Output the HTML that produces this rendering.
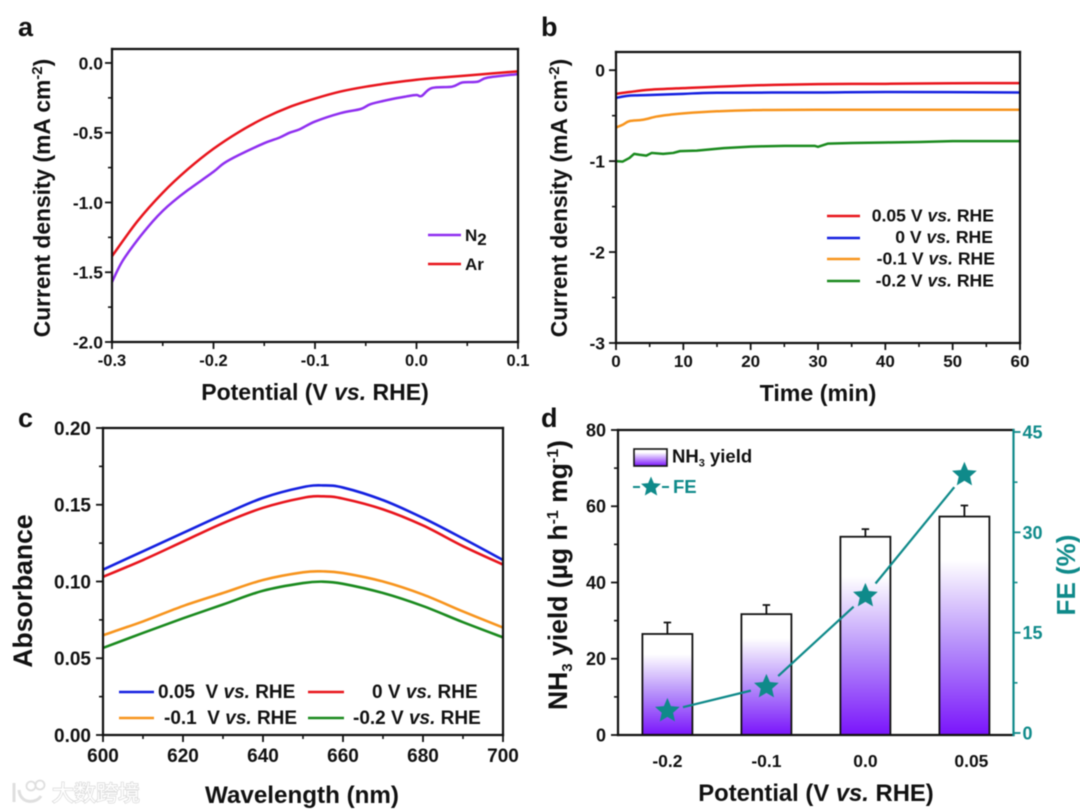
<!DOCTYPE html>
<html lang="en">
<head>
<meta charset="utf-8">
<title>Electrochemical NH3 figure</title>
<style>
html,body{margin:0;padding:0;background:#fff;width:1080px;height:812px;overflow:hidden}
svg{display:block;filter:blur(.4px)}
text{font-family:"Liberation Sans","Noto Sans CJK SC",sans-serif;font-weight:bold;fill:#111}
.it{font-style:italic}
.teal{fill:#0f8a8a}
</style>
</head>
<body>
<svg id="fig" xmlns="http://www.w3.org/2000/svg" width="1080" height="812" viewBox="0 0 1080 812">
<defs>
<linearGradient id="barGrad" x1="0" y1="1" x2="0" y2="0">
<stop offset="0" stop-color="#7a14fb"/>
<stop offset=".4" stop-color="#b48cfa"/>
<stop offset=".8" stop-color="#ffffff"/>
<stop offset="1" stop-color="#ffffff"/>
</linearGradient>
<linearGradient id="legGrad" x1="0" y1="1" x2="0" y2="0">
<stop offset="0" stop-color="#7a14fb"/>
<stop offset=".8" stop-color="#ffffff"/>
</linearGradient>
</defs>

<text x="18" y="36" font-size="27">a</text>
<text x="541" y="36" font-size="27">b</text>
<text x="18" y="427" font-size="27">c</text>
<text x="541" y="427" font-size="27">d</text>

<g id="panelA"></g>
<g id="panelB"></g>
<g id="panelC"></g>
<g id="panelD"></g>

<text x="315" y="400" font-size="23" text-anchor="middle">Potential (V <tspan class="it">vs.</tspan> RHE)</text>
<text transform="translate(50 198) rotate(-90)" font-size="22.800" text-anchor="middle">Current density (mA cm<tspan dy="-8" font-size="15">-2</tspan><tspan dy="8">)</tspan></text>
<text x="818" y="401" font-size="23.200" text-anchor="middle">Time (min)</text>
<text transform="translate(567 198) rotate(-90)" font-size="22.800" text-anchor="middle">Current density (mA cm<tspan dy="-8" font-size="15">-2</tspan><tspan dy="8">)</tspan></text>
<text x="302" y="803" font-size="24.200" text-anchor="middle">Wavelength (nm)</text>
<text transform="translate(32 591) rotate(-90)" font-size="26.500" text-anchor="middle">Absorbance</text>
<text x="816" y="801" font-size="23.800" text-anchor="middle">Potential (V <tspan class="it">vs.</tspan> RHE)</text>
<text transform="translate(567 575) rotate(-90)" font-size="26.500" text-anchor="middle">NH<tspan dy="5" font-size="15">3</tspan><tspan dy="-5"> yield (µg h</tspan><tspan dy="-9" font-size="16">-1</tspan><tspan dy="9"> mg</tspan><tspan dy="-9" font-size="16">-1</tspan><tspan dy="9">)</tspan></text>
<text class="teal" transform="translate(1075 575) rotate(-90)" font-size="26" text-anchor="middle">FE (%)</text>

<g>
<line x1="428" x2="461" y1="235" y2="235" stroke="#8f2ff0" stroke-width="2.400"/>
<text x="465" y="241" font-size="17">N<tspan dy="4" font-size="17">2</tspan></text>
<line x1="428" x2="461" y1="264" y2="264" stroke="#e8141c" stroke-width="2.400"/>
<text x="465" y="270" font-size="17">Ar</text>
</g>

<g>
<line x1="827" x2="860" y1="216" y2="216" stroke="#e8141c" stroke-width="2.400"/>
<text x="994" y="221.500" font-size="17.600" text-anchor="end">0.05 V <tspan class="it">vs.</tspan> RHE</text>
<line x1="827" x2="860" y1="238" y2="238" stroke="#1420e0" stroke-width="2.400"/>
<text x="993" y="243" font-size="17.600" text-anchor="end">0 V <tspan class="it">vs.</tspan> RHE</text>
<line x1="827" x2="860" y1="259" y2="259" stroke="#f7941d" stroke-width="2.400"/>
<text x="995" y="264.500" font-size="17.600" text-anchor="end">-0.1 V <tspan class="it">vs.</tspan> RHE</text>
<line x1="827" x2="860" y1="281" y2="281" stroke="#1a8a1e" stroke-width="2.400"/>
<text x="994" y="286.500" font-size="17.600" text-anchor="end">-0.2 V <tspan class="it">vs.</tspan> RHE</text>
</g>

<g>
<line x1="119" x2="154" y1="692" y2="692" stroke="#1420e0" stroke-width="2.600"/>
<text x="158" y="698" font-size="19" xml:space="preserve">0.05  V <tspan class="it">vs.</tspan> RHE</text>
<line x1="308" x2="344" y1="692" y2="692" stroke="#e8141c" stroke-width="2.600"/>
<text x="372" y="698" font-size="19">0 V <tspan class="it">vs.</tspan> RHE</text>
<line x1="119" x2="154" y1="718" y2="718" stroke="#f7941d" stroke-width="2.600"/>
<text x="164" y="724" font-size="19" xml:space="preserve">-0.1  V <tspan class="it">vs.</tspan> RHE</text>
<line x1="308" x2="344" y1="718" y2="718" stroke="#1a8a1e" stroke-width="2.600"/>
<text x="353" y="724" font-size="19">-0.2 V <tspan class="it">vs.</tspan> RHE</text>
</g>

<g>
<rect x="634" y="449" width="33" height="17" fill="url(#legGrad)" stroke="#111" stroke-width="1.600"/>
<text x="672" y="462.500" font-size="18.500">NH<tspan dy="4" font-size="11">3</tspan><tspan dy="-4"> yield</tspan></text>
<line x1="633" x2="669" y1="487" y2="487" stroke="#0f8a8a" stroke-width="2" stroke-dasharray="7 22 7"/>
<polygon id="legendStar" fill="#0f8a8a"/>
<text class="teal" x="673" y="493" font-size="18.500">FE</text>
</g>

<g opacity=".95">
<path d="M14 783 L14 802 M19 790 C20 804 36 804 41 796" fill="none" stroke="#dedede" stroke-width="3"/>
<circle cx="31" cy="786" r="4.500" fill="none" stroke="#dedede" stroke-width="1.800"/>
<circle cx="40" cy="785" r="4.500" fill="none" stroke="#dedede" stroke-width="1.800"/>
<text x="52" y="801" font-size="22" style="font-weight:normal;fill:#fff;stroke:#d6d6d6;stroke-width:1.4px;paint-order:stroke">大数跨境</text>
</g>
</svg>

<script>
// ---------- Panel a data ----------
const aXLabels = ['-0.3', '-0.2', '-0.1', '0.0', '0.1'];
const aYLabels = ['0.0', '-0.5', '-1.0', '-1.5', '-2.0'];
const aArX = [-0.3, -0.275, -0.25, -0.225, -0.2, -0.175, -0.15, -0.125, -0.1, -0.075, -0.05, -0.025, 0, 0.025, 0.05, 0.075, 0.1];
const aArY = [-1.385, -1.135, -0.93, -0.76, -0.615, -0.495, -0.395, -0.315, -0.255, -0.205, -0.17, -0.143, -0.12, -0.104, -0.09, -0.075, -0.06];
const aN2X = [-0.3, -0.29, -0.275, -0.26, -0.25, -0.24, -0.225, -0.2, -0.19, -0.175, -0.15, -0.135, -0.125, -0.115, -0.1, -0.075, -0.055, -0.045, -0.025, -0.01, 0, 0.005, 0.015, 0.035, 0.045, 0.06, 0.07, 0.1];
const aN2Y = [-1.57, -1.424, -1.27, -1.137, -1.06, -0.995, -0.91, -0.78, -0.72, -0.66, -0.575, -0.535, -0.5, -0.475, -0.42, -0.36, -0.33, -0.295, -0.26, -0.24, -0.23, -0.237, -0.18, -0.17, -0.14, -0.135, -0.105, -0.08];

// ---------- Panel b data ----------
const bXLabels = ['0', '10', '20', '30', '40', '50', '60'];
const bYLabels = ['0', '-1', '-2', '-3'];
const bRedT = [0, 2, 5, 10, 20, 30, 40, 50, 60];
const bRedY = [-0.26, -0.24, -0.215, -0.197, -0.168, -0.153, -0.15, -0.143, -0.142];
const bBlueT = [0, 2, 5, 10, 15, 30, 40, 60];
const bBlueY = [-0.305, -0.28, -0.273, -0.26, -0.248, -0.245, -0.24, -0.245];
const bOrangeT = [0, 1, 2, 4, 6, 8, 10, 15, 20, 30, 60];
const bOrangeY = [-0.63, -0.6, -0.56, -0.545, -0.51, -0.49, -0.475, -0.452, -0.44, -0.435, -0.435];
const bGreenT = [0, 1, 2, 2.7, 3.5, 4.5, 5.3, 7, 8.5, 9.5, 12, 16, 20, 25, 29.5, 30, 31.5, 35, 40, 45, 50, 60];
const bGreenY = [-1, -1.005, -0.965, -0.92, -0.93, -0.94, -0.91, -0.92, -0.91, -0.89, -0.885, -0.857, -0.84, -0.832, -0.832, -0.843, -0.807, -0.8, -0.795, -0.79, -0.78, -0.78];

// ---------- Panel c data ----------
const cXLabels = ['600', '620', '640', '660', '680', '700'];
const cYLabels = ['0.00', '0.05', '0.10', '0.15', '0.20'];
const cWave = [600, 610, 620, 630, 640, 650, 655, 660, 670, 680, 690, 700];
const cBlue = [0.1077, 0.1197, 0.1316, 0.1435, 0.1545, 0.1615, 0.1626, 0.1612, 0.153, 0.1414, 0.128, 0.114];
const cRed = [0.103, 0.114, 0.126, 0.138, 0.148, 0.1545, 0.1555, 0.154, 0.147, 0.1365, 0.123, 0.111];
const cOrange = [0.065, 0.074, 0.084, 0.0925, 0.101, 0.106, 0.1066, 0.1055, 0.1, 0.0915, 0.0805, 0.07];
const cGreen = [0.0567, 0.0665, 0.076, 0.085, 0.094, 0.099, 0.0999, 0.0985, 0.0925, 0.084, 0.0735, 0.0636];

// ---------- Panel d data ----------
const dCategories = ['-0.2', '-0.1', '0.0', '0.05'];
const dYield = [26.5, 31.7, 52, 57.3];
const dYieldErr = [3, 2.4, 2, 2.9];
const dFE = [3.3, 6.9, 20.5, 38.6];
const dYLabels = ['0', '20', '40', '60', '80'];
const dRightLabels = ['0', '15', '30', '45'];

const NS = 'http://www.w3.org/2000/svg';
function mk(parent, tag, attrs, txt) {
  const el = document.createElementNS(NS, tag);
  for (const k in attrs) el.setAttribute(k, attrs[k]);
  if (txt !== undefined) el.textContent = txt;
  parent.appendChild(el);
  return el;
}
function scale(d0, d1, r0, r1) {
  return v => r0 + (v - d0) / (d1 - d0) * (r1 - r0);
}
function midpoints(nums) {
  const out = [];
  for (let i = 0; i < nums.length - 1; i++) out.push((nums[i] + nums[i + 1]) / 2);
  return out;
}
function smoothPath(xs, ys, sx, sy) {
  const p = xs.map((x, i) => [sx(x), sy(ys[i])]);
  let d = 'M' + p[0][0].toFixed(2) + ' ' + p[0][1].toFixed(2);
  for (let i = 0; i < p.length - 1; i++) {
    const p0 = p[Math.max(i - 1, 0)], p1 = p[i], p2 = p[i + 1], p3 = p[Math.min(i + 2, p.length - 1)];
    const c1x = p1[0] + (p2[0] - p0[0]) / 6, c1y = p1[1] + (p2[1] - p0[1]) / 6;
    const c2x = p2[0] - (p3[0] - p1[0]) / 6, c2y = p2[1] - (p3[1] - p1[1]) / 6;
    d += 'C' + c1x.toFixed(2) + ' ' + c1y.toFixed(2) + ' ' + c2x.toFixed(2) + ' ' + c2y.toFixed(2) + ' ' + p2[0].toFixed(2) + ' ' + p2[1].toFixed(2);
  }
  return d;
}
function linePath(xs, ys, sx, sy) {
  return xs.map((x, i) => (i ? 'L' : 'M') + sx(x).toFixed(2) + ' ' + sy(ys[i]).toFixed(2)).join('');
}
function drawSeries(g, d, color, w, name) {
  const el = mk(g, 'path', { d: d, fill: 'none', stroke: color, 'stroke-width': w, 'stroke-linejoin': 'round' });
  
  
}
function frameLine(g, x1, y1, x2, y2, color, name) {
  const el = mk(g, 'line', { x1: x1, y1: y1, x2: x2, y2: y2, stroke: color, 'stroke-width': 2.2, 'stroke-linecap': 'square' });
  
  
}
function xTicks(g, labels, sx, y0, fs, baseline) {
  const nums = labels.map(Number);
  nums.forEach((v, i) => {
    const t = mk(g, 'line', { x1: sx(v), x2: sx(v), y1: y0, y2: y0 + 7, stroke: '#111', 'stroke-width': 1.8 });
    
    
    const l = mk(g, 'text', { x: sx(v), y: baseline, 'font-size': fs, 'text-anchor': 'middle' }, labels[i]);
    
    
  });
  midpoints(nums).forEach(v => {
    const t = mk(g, 'line', { x1: sx(v), x2: sx(v), y1: y0, y2: y0 + 4, stroke: '#111', 'stroke-width': 1.6 });
    
    
  });
}
function yTicks(g, labels, sy, x0, dir, fs, color, cls, gap) {
  const nums = labels.map(Number);
  nums.forEach((v, i) => {
    const t = mk(g, 'line', { x1: x0, x2: x0 + dir * 7, y1: sy(v), y2: sy(v), stroke: color, 'stroke-width': 1.8 });
    
    
    const l = mk(g, 'text', { x: x0 + dir * gap, y: sy(v) + fs * 0.36, 'font-size': fs, 'text-anchor': dir < 0 ? 'end' : 'start' }, labels[i]);
    if (cls) l.setAttribute('class', cls);
    
    
  });
  midpoints(nums).forEach(v => {
    const t = mk(g, 'line', { x1: x0, x2: x0 + dir * 4, y1: sy(v), y2: sy(v), stroke: color, 'stroke-width': 1.6 });
    
    
  });
}
function frame(g, L, R, T, B) {
  frameLine(g, L, T, R, T, '#111', 'plot-frame-top');
  frameLine(g, R, T, R, B, '#111', 'plot-frame-right');
  frameLine(g, L, T, L, B, '#111', 'plot-frame-left');
  frameLine(g, L, B, R, B, '#111', 'plot-frame-bottom');
}
function starPoints(cx, cy, r) {
  const pts = [];
  for (let i = 0; i < 10; i++) {
    const a = -Math.PI / 2 + i * Math.PI / 5;
    const rr = i % 2 ? r * 0.46 : r;
    pts.push((cx + rr * Math.cos(a)).toFixed(2) + ',' + (cy + rr * Math.sin(a)).toFixed(2));
  }
  return pts.join(' ');
}

// ---------- Panel a ----------
(function () {
  const g = document.getElementById('panelA');
  const L = 112, R = 518, T = 49, B = 342;
  const sx = scale(-0.3, 0.1, L, R), sy = scale(-2, 0.1, B, T);
  drawSeries(g, smoothPath(aN2X, aN2Y, sx, sy), '#8f2ff0', 2.5, 'n2-curve');
  drawSeries(g, smoothPath(aArX, aArY, sx, sy), '#e8141c', 2.5, 'ar-curve');
  frame(g, L, R, T, B);
  xTicks(g, aXLabels, sx, B, 16.5, 366);
  yTicks(g, aYLabels, sy, L, -1, 17.5, '#111', null, 9);
})();

// ---------- Panel b ----------
(function () {
  const g = document.getElementById('panelB');
  const L = 616, R = 1020, T = 52, B = 343;
  const sx = scale(0, 60, L, R), sy = scale(-3, 0.2, B, T);
  drawSeries(g, smoothPath(bRedT, bRedY, sx, sy), '#e8141c', 2.5, 'series-0-05v');
  drawSeries(g, smoothPath(bBlueT, bBlueY, sx, sy), '#1420e0', 2.5, 'series-0v');
  drawSeries(g, smoothPath(bOrangeT, bOrangeY, sx, sy), '#f7941d', 2.5, 'series-minus-0-1v');
  drawSeries(g, linePath(bGreenT, bGreenY, sx, sy), '#1a8a1e', 2.5, 'series-minus-0-2v');
  frame(g, L, R, T, B);
  xTicks(g, bXLabels, sx, B, 17, 367);
  yTicks(g, bYLabels, sy, L, -1, 17.5, '#111', null, 11);
})();

// ---------- Panel c ----------
(function () {
  const g = document.getElementById('panelC');
  const L = 103, R = 503, T = 428, B = 735;
  const sx = scale(600, 700, L, R), sy = scale(0, 0.2, B, T);
  drawSeries(g, smoothPath(cWave, cBlue, sx, sy), '#1420e0', 2.6, 'absorbance-0-05v');
  drawSeries(g, smoothPath(cWave, cRed, sx, sy), '#e8141c', 2.6, 'absorbance-0v');
  drawSeries(g, smoothPath(cWave, cOrange, sx, sy), '#f7941d', 2.6, 'absorbance-minus-0-1v');
  drawSeries(g, smoothPath(cWave, cGreen, sx, sy), '#1a8a1e', 2.6, 'absorbance-minus-0-2v');
  frame(g, L, R, T, B);
  xTicks(g, cXLabels, sx, B, 19, 762);
  yTicks(g, cYLabels, sy, L, -1, 19, '#111', null, 12);
})();

// ---------- Panel d ----------
(function () {
  const g = document.getElementById('panelD');
  const L = 618, R = 1013.5, T = 430, B = 735;
  const sy = scale(0, 80, B, T);
  const syR = scale(0, 45, 733, 432);
  const first = 667.4, step = 99;
  const bw = 50;
  const bx = i => first + i * step;
  dCategories.forEach((c, i) => {
    const top = sy(dYield[i]);
    const errTop = sy(dYield[i] + dYieldErr[i]);
    const e = mk(g, 'path', { d: 'M' + bx(i) + ' ' + top + 'V' + errTop + 'M' + (bx(i) - 3.75) + ' ' + errTop + 'H' + (bx(i) + 3.75), fill: 'none', stroke: '#111', 'stroke-width': 1.8 });
    
    
    const r = mk(g, 'rect', { x: bx(i) - bw / 2, y: top, width: bw, height: B - top, fill: 'url(#barGrad)', stroke: '#111', 'stroke-width': 1.8 });
    
    
    const l = mk(g, 'text', { x: bx(i) + (c === '0.05' ? 7 : 0), y: 767, 'font-size': 17.5, 'text-anchor': 'middle' }, c);
    
    
  });
  frameLine(g, L, T, R, T, '#111', 'plot-frame-top');
  frameLine(g, L, T, L, B, '#111', 'plot-frame-left');
  frameLine(g, L, B, R, B, '#111', 'plot-frame-bottom');
  frameLine(g, R, T, R, B, '#0f8a8a', 'right-axis-line');
  yTicks(g, dYLabels, sy, L, -1, 18, '#111', null, 12);
  yTicks(g, dRightLabels, syR, R, 1, 18, '#0f8a8a', 'teal', 9);
  for (let i = 0; i < dFE.length - 1; i++) {
    const x1 = bx(i), y1 = syR(dFE[i]), x2 = bx(i + 1), y2 = syR(dFE[i + 1]);
    const len = Math.hypot(x2 - x1, y2 - y1), ux = (x2 - x1) / len, uy = (y2 - y1) / len, gap = 16;
    const s = mk(g, 'line', { x1: x1 + ux * gap, y1: y1 + uy * gap, x2: x2 - ux * gap, y2: y2 - uy * gap, stroke: '#0f8a8a', 'stroke-width': 2.2 });
    
    
  }
  dFE.forEach((v, i) => {
    const st = mk(g, 'polygon', { points: starPoints(bx(i), syR(v), 13), fill: '#0f8a8a' });
    
    
  });
  document.getElementById('legendStar').setAttribute('points', starPoints(651, 487, 10.5));
})();
</script>
</body>
</html>
